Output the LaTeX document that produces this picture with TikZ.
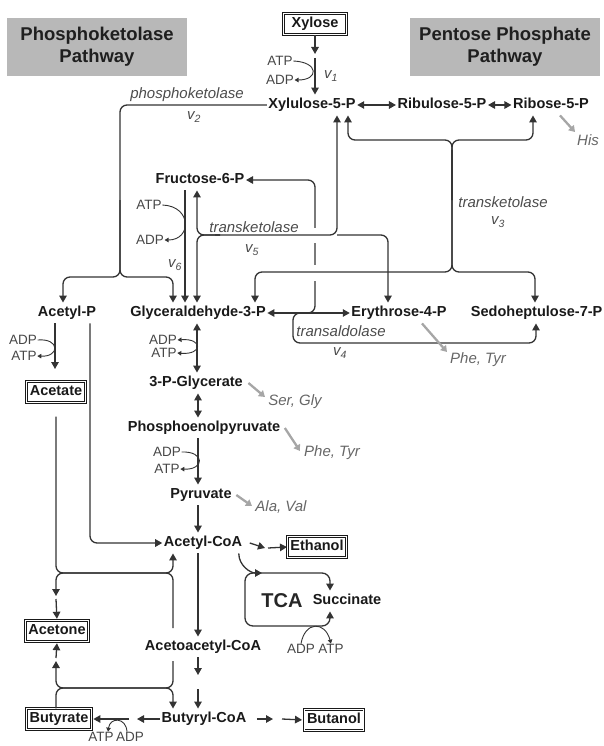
\documentclass[tikz,border=0pt]{standalone}
\usepackage{fontspec}
\setmainfont{Liberation Sans}
\usetikzlibrary{arrows.meta}
\newcommand{\vrate}[1]{\textit{v}\textsubscript{\textit{#1}}}
\begin{document}
\begin{tikzpicture}[x=1pt, y=-1pt,
    met/.style={font=\bfseries\fontsize{14.5}{17}\selectfont, text=black!90, inner xsep=1.5pt, inner ysep=3.5pt, text height=10.5pt, text depth=3pt},
    prod/.style={met, draw=black!90, double, double distance=1pt, line width=0.9pt, inner xsep=3pt},
    pathbox/.style={fill=black!28, align=center, minimum height=58, font=\bfseries\fontsize{18.5}{22}\selectfont, text=black!88},
    enz/.style={font=\itshape\fontsize{15}{17}\selectfont, text=black!70, inner sep=0pt},
    cof/.style={font=\fontsize{13.5}{15}\selectfont, text=black!72, inner sep=0.5pt},
    aa/.style={font=\itshape\fontsize{15}{17}\selectfont, text=black!60, inner sep=0pt},
    flux/.style={draw=black!80, line width=1.3pt, -{Triangle[length=7pt,width=7.5pt]}},
    revflux/.style={flux, {Triangle[length=7pt,width=7.5pt]}-{Triangle[length=7pt,width=7.5pt]}},
    link/.style={rounded corners=7pt},
    cofarr/.style={draw=black!80, line width=0.9pt, -{Triangle[length=4pt,width=4.5pt]}},
    cofrev/.style={cofarr, {Triangle[length=4pt,width=4.5pt]}-{Triangle[length=4pt,width=4.5pt]}},
    aaflow/.style={draw=black!35, line width=2.3pt, -{Triangle[length=6pt,width=7.5pt]}}]
  \useasboundingbox (0,0) rectangle (604,746);

  % Nodes
  \node[pathbox, minimum width=180] (pkpath) at (97,47) {Phosphoketolase\\Pathway};
  \node[pathbox, minimum width=190] (pppath) at (505,47) {Pentose Phosphate\\Pathway};
  \node[prod, minimum width=63, inner ysep=4pt] (xylose) at (315,24) {Xylose};
  \node[met] (x5p) at (312,105) {Xylulose-5-P};
  \node[met] (ru5p) at (442,105) {Ribulose-5-P};
  \node[met] (r5p) at (551,105) {Ribose-5-P};
  \node[met] (f6p) at (200,180) {Fructose-6-P};
  \node[met] (acp) at (67,313) {Acetyl-P};
  \node[met] (g3p) at (198,313) {Glyceraldehyde-3-P};
  \node[met] (e4p) at (399,313) {Erythrose-4-P};
  \node[met, anchor=east] (s7p) at (604,313) {Sedoheptulose-7-P};
  \node[prod] (acetate) at (56,392) {Acetate};
  \node[met] (pga) at (196,383) {3-P-Glycerate};
  \node[met] (pep) at (204,428) {Phosphoenolpyruvate};
  \node[met] (pyr) at (201,495) {Pyruvate};
  \node[met] (accoa) at (203,543) {Acetyl-CoA};
  \node[prod] (ethanol) at (317,547) {Ethanol};
  \node[font=\bfseries\fontsize{20}{22}\selectfont, text=black!85] (tca) at (282,601) {TCA};
  \node[met] (succ) at (347,601) {Succinate};
  \node[prod] (acetone) at (57,631) {Acetone};
  \node[met] (aacoa) at (203,647) {Acetoacetyl-CoA};
  \node[prod] (butyrate) at (59,719) {Butyrate};
  \node[met] (bucoa) at (204,719) {Butyryl-CoA};
  \node[prod] (butanol) at (334,720) {Butanol};

  % Enzymes and cofactors
  \node[cof] (atp1) at (280,61) {ATP};
  \node[cof] (adp1) at (280,80) {ADP};
  \node[enz] (v1) at (331,76) {\vrate{1}};
  \node[enz] (pk) at (187,95) {phosphoketolase};
  \node[enz] (v2) at (194,117) {\vrate{2}};
  \node[enz] (tk3) at (503,202) {transketolase};
  \node[enz] (v3) at (498,222) {\vrate{3}};
  \node[enz] (tk5) at (254,227) {transketolase};
  \node[enz] (v5) at (252,250) {\vrate{5}};
  \node[enz] (ta4) at (341,331) {transaldolase};
  \node[enz] (v4) at (340,353) {\vrate{4}};
  \node[enz] (v6) at (175,265) {\vrate{6}};
  \node[cof] (atp6) at (149,205) {ATP};
  \node[cof] (adp6) at (150,240) {ADP};
  \node[cof] (adpa) at (23,340) {ADP};
  \node[cof] (atpa) at (24,356) {ATP};
  \node[cof] (adpg) at (163,340) {ADP};
  \node[cof] (atpg) at (164,353) {ATP};
  \node[cof] (adpp) at (167,452) {ADP};
  \node[cof] (atpp) at (167,469) {ATP};
  \node[cof] (adpt) at (301,649) {ADP};
  \node[cof] (atpt) at (331,649) {ATP};
  \node[cof] (atpb) at (101,737) {ATP};
  \node[cof] (adpb) at (130,737) {ADP};
  \node[aa] (his) at (588,140) {His};
  \node[aa] (sergly) at (295,402) {Ser, Gly};
  \node[aa] (phetyra) at (332,453) {Phe, Tyr};
  \node[aa] (phetyrb) at (478,360) {Phe, Tyr};
  \node[aa] (alaval) at (281,507) {Ala, Val};

  % Junctions
  \coordinate (pkj) at (120,277);
  \coordinate (tk3t) at (452,140);
  \coordinate (tk3b) at (452,272);
  \coordinate (tk5j) at (337,235);
  \coordinate (ctup) at (56,573);
  \coordinate (ctlow) at (56,688);

  % Arrows
  \draw[flux] (xylose.south) -- (315,54);
  \draw[flux] (315,58) -- (315,0 |- x5p.north);
  \draw[cofarr] (atp1.east) .. controls (319,62) and (319,80) .. (adp1.east);
  \draw[revflux] (x5p.east) -- (ru5p.west);
  \draw[revflux] (ru5p.east) -- (r5p.west);

  % phosphoketolase
  \draw[flux, link] (x5p.west) -- (120,0 |- x5p.west) -- (pkj) -- (63,277) -- (63,0 |- acp.north);
  \draw[flux, link] (120,200) -- (pkj) -- (173,277) -- (173,0 |- g3p.north);

  % transaldolase
  \draw[revflux] (g3p.east) -- (e4p.west);
  \draw[flux, link] (300,313) -- (315,313) -- (315,180) -- (f6p.east);
  \draw[flux, link] (315,313) -- (293,313) -- (293,343) -- (536,343) -- (536,0 |- s7p.south);
  \draw[white, line width=3.5pt] (315,228) -- (315,243);
  \draw[white, line width=3.5pt] (315,265) -- (315,281);

  % transketolase v3
  \draw[flux, link] (452,200) -- (tk3t) -- (348,140) -- (348,0 |- x5p.south);
  \draw[flux, link] (452,200) -- (tk3t) -- (533,140) -- (533,0 |- r5p.south);
  \draw[flux, link] (452,150) -- (tk3b) -- (255,272) -- (255,0 |- g3p.north);
  \draw[flux, link] (452,150) -- (tk3b) -- (535,272) -- (535,0 |- s7p.north);

  % transketolase v5
  \draw[flux, link] (215,235) -- (tk5j) -- (337,0 |- x5p.south);
  \draw[flux, link] (tk5j) -- (388,235) -- (388,0 |- e4p.north);
  \draw[flux, link] (220,235) -- (197,235) -- (197,0 |- f6p.south);
  \draw[flux, link] (220,235) -- (197,235) -- (197,0 |- g3p.north);

  % v6
  \draw[flux] (185,0 |- f6p.south) -- (185,0 |- g3p.north);
  \draw[cofarr] (atp6.east) .. controls (192,206) and (192,240) .. (adp6.east);

  % glycolysis
  \draw[revflux] (197,0 |- g3p.south) -- (197,0 |- pga.north);
  \draw[cofrev] (adpg.east) .. controls (203,338) and (203,355) .. (atpg.east);
  \draw[revflux] (198,0 |- pga.south) -- (198,0 |- pep.north);
  \draw[flux] (198,0 |- pep.south) -- (198,0 |- pyr.north);
  \draw[cofarr] (adpp.east) .. controls (205,451) and (205,470) .. (atpp.east);
  \draw[flux] (198,0 |- pyr.south) -- (198,0 |- accoa.north);

  % amino acids
  \draw[aaflow] ([xshift=9pt]r5p.south) -- (575,132);
  \draw[aaflow] ([xshift=23pt]e4p.south) -- (447,352);
  \draw[aaflow] ([xshift=4pt]pga.east) -- (265,397);
  \draw[aaflow] ([xshift=3pt]pep.east) -- (300,451);
  \draw[aaflow] ([xshift=3pt]pyr.east) -- (252,506);

  % acetate
  \draw[flux, link] (90,0 |- acp.south) -- (90,543) -- (accoa.west);
  \draw[flux] (55,0 |- acp.south) -- (55,369);
  \draw[cofarr] (adpa.east) .. controls (60,338) and (60,357) .. (atpa.east);

  % solvents
  \draw[flux] ([xshift=6pt]accoa.east) -- (265,548);
  \draw[flux] (268,548) -- (ethanol.west);
  \draw[flux] (198,0 |- accoa.south) -- (198,0 |- aacoa.north);
  \draw[flux] (198,0 |- aacoa.south) -- (198,675);
  \draw[flux] (198,689) -- (198,0 |- bucoa.north);
  \draw[flux, link] ([yshift=-14pt]acetate.south) -- (ctup) -- (173,573) -- (173,0 |- accoa.south);
  \draw[flux, link] (173,628) -- (173,573) -- (ctup) -- (56,596);
  \draw[flux, shorten >=1.5pt] (56,599) -- (acetone.north);
  \draw[flux, link] (173,661) -- (173,688) -- (ctlow) -- (56,661);
  \draw[flux, shorten >=1.5pt] (56,658) -- (acetone.south);
  \draw[flux, link] (56,0 |- butyrate.north) -- (ctlow) -- (173,688) -- (173,0 |- bucoa.north);
  \draw[flux] (bucoa.west) -- (137,719);
  \draw[flux, shorten >=1.5pt] (129,719) -- (butyrate.east);
  \draw[cofarr] ([xshift=-3pt]adpb.north) .. controls (126,717) and (110,717) .. ([xshift=7pt]atpb.north);
  \draw[flux] ([xshift=9pt]bucoa.east) -- (273,719);
  \draw[flux, shorten >=1.5pt] (282,719) -- (butanol.west);

  % TCA
  \draw[revflux, rounded corners=8pt] (330,0 |- succ.north) -- (330,573) -- (245,573) -- (245,626) -- (330,626) -- (330,0 |- succ.south);
  \draw[flux] ([xshift=-5pt]accoa.south east) to[out=-90, in=180] (262,573);
  \draw[cofarr] (adpt.north) .. controls (305,621) and (325,621) .. (atpt.north);
\end{tikzpicture}
\end{document}
